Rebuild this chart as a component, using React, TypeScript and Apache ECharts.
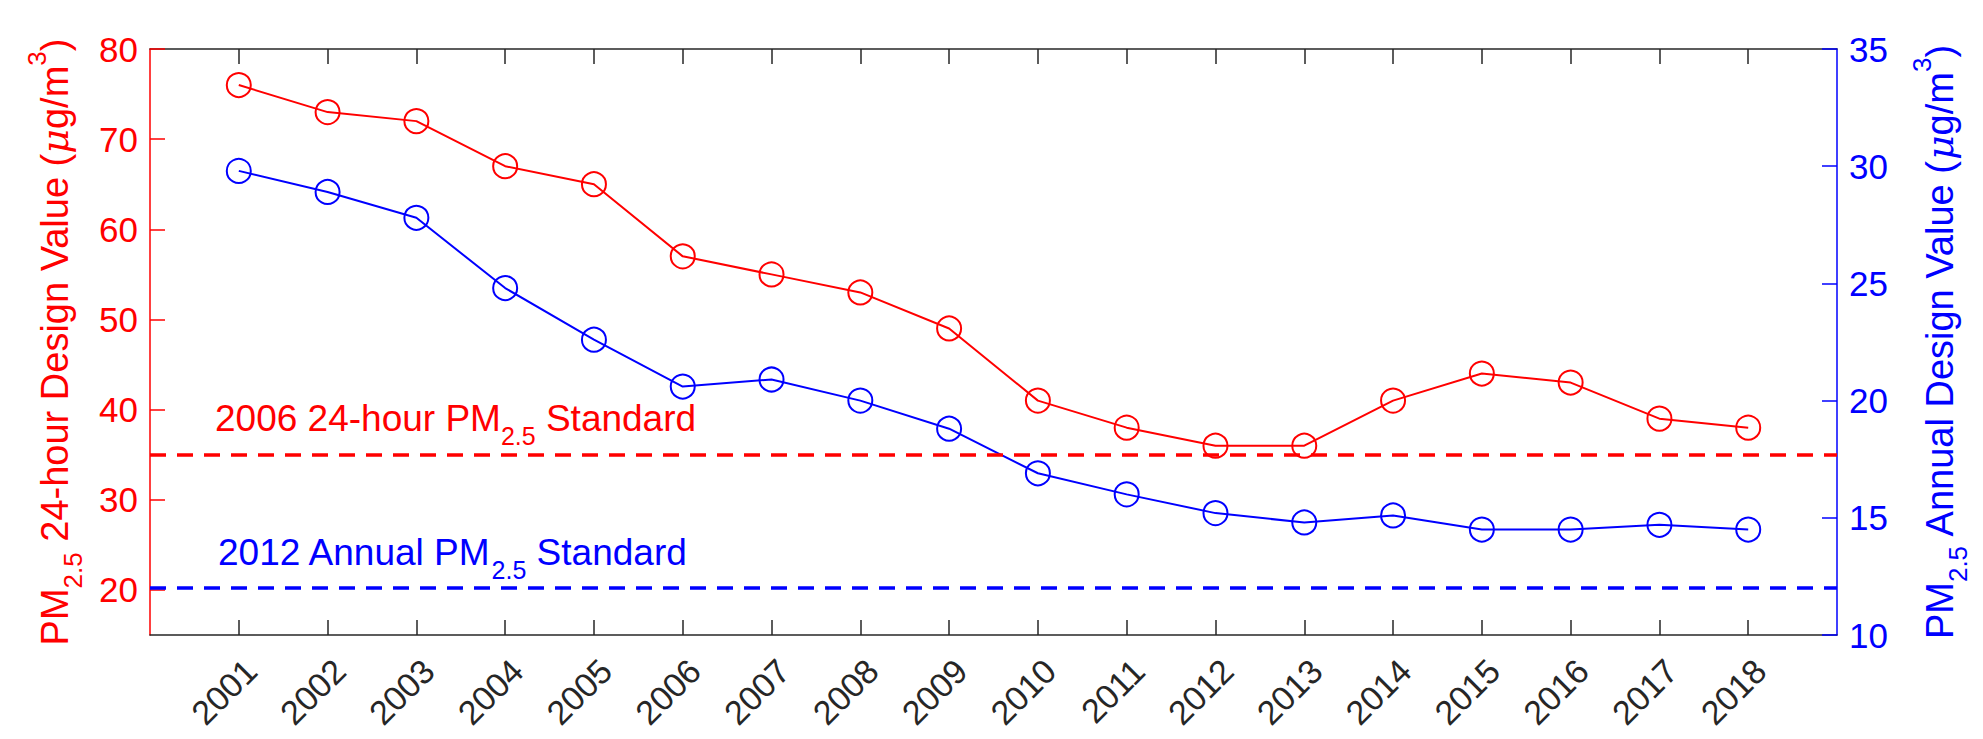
import React, { useEffect, useRef } from "react";
import * as echarts from "echarts";

const years = [2001, 2002, 2003, 2004, 2005, 2006, 2007, 2008, 2009, 2010, 2011, 2012, 2013, 2014, 2015, 2016, 2017, 2018];
const dv24h = [76, 73, 72, 67, 65, 57, 55, 53, 49, 41, 38, 36, 36, 41, 44, 43, 39, 38];
const dvAnnual = [29.8, 28.9, 27.8, 24.8, 22.6, 20.6, 20.9, 20.0, 18.8, 16.9, 16.0, 15.2, 14.8, 15.1, 14.5, 14.5, 14.7, 14.5];
const leftTicks = [20, 30, 40, 50, 60, 70, 80];
const std24h = 35;
const stdAnnual = 12;

const RED = "#ff0000";
const BLUE = "#0000ff";
const DARK = "#262626";
const FONT = "Liberation Sans";

function richFor(color: string, size: number) {
  const sub = Math.round(size * 0.68);
  const lh = Math.round(size * 1.62);
  return {
    n: { fontSize: size, lineHeight: lh, verticalAlign: "middle", color, fontFamily: FONT },
    s: { fontSize: sub, lineHeight: sub, verticalAlign: "bottom", color, fontFamily: FONT },
    p: { fontSize: sub, lineHeight: Math.round(sub * 1.25), verticalAlign: "top", color, fontFamily: FONT },
    i: { fontSize: size, lineHeight: lh, verticalAlign: "middle", color, fontFamily: "DejaVu Serif", fontStyle: "italic" },
  };
}

export default function App() {
  const ref = useRef<HTMLDivElement>(null);
  useEffect(() => {
    if (!ref.current) return;
    const chart = echarts.init(ref.current, null, { renderer: "svg" });
    const tickCommon = { inside: true, length: 15 };
    chart.setOption({
      animation: false,
      backgroundColor: "#ffffff",
      textStyle: { fontFamily: FONT },
      grid: { left: 150, top: 49, width: 1687, height: 586, containLabel: false },
      xAxis: [
        {
          type: "value",
          min: 2000,
          max: 2019,
          position: "bottom",
          axisLine: { show: true, lineStyle: { color: DARK, width: 1.5 } },
          axisTick: { ...tickCommon, customValues: years, lineStyle: { color: DARK, width: 1.5 } },
          axisLabel: {
            customValues: years,
            rotate: 45,
            margin: 18,
            verticalAlign: "top",
            fontSize: 34,
            color: DARK,
            fontFamily: FONT,
            formatter: (v: number) => String(v),
          },
          splitLine: { show: false },
        },
        {
          type: "value",
          min: 2000,
          max: 2019,
          position: "top",
          axisLine: { show: true, lineStyle: { color: DARK, width: 1.5 } },
          axisTick: { ...tickCommon, customValues: years, lineStyle: { color: DARK, width: 1.5 } },
          axisLabel: { show: false },
          splitLine: { show: false },
        },
      ],
      yAxis: [
        {
          type: "value",
          min: 15,
          max: 80,
          position: "left",
          axisLine: { show: true, lineStyle: { color: RED, width: 1.5 } },
          axisTick: { ...tickCommon, customValues: leftTicks, lineStyle: { color: RED, width: 1.5 } },
          axisLabel: { customValues: leftTicks, fontSize: 35, color: RED, fontFamily: FONT, margin: 12 },
          splitLine: { show: false },
          name: "{n|PM}{s|2.5}{n| 24-hour Design Value (}{i|μ}{n|g/m}{p|3}{n|)}",
          nameLocation: "middle",
          nameRotate: 90,
          nameGap: 64,
          nameTextStyle: { rich: richFor(RED, 38), color: RED },
        },
        {
          type: "value",
          min: 10,
          max: 35,
          interval: 5,
          position: "right",
          axisLine: { show: true, lineStyle: { color: BLUE, width: 1.5 } },
          axisTick: { ...tickCommon, lineStyle: { color: BLUE, width: 1.5 } },
          axisLabel: { fontSize: 35, color: BLUE, fontFamily: FONT, margin: 12 },
          splitLine: { show: false },
          name: "{n|PM}{s|2.5}{n| Annual Design Value (}{i|μ}{n|g/m}{p|3}{n|)}",
          nameLocation: "middle",
          nameRotate: 90,
          nameGap: 72,
          nameTextStyle: { rich: richFor(BLUE, 38), color: BLUE },
        },
      ],
      series: [
        {
          type: "line",
          name: "24-hour",
          xAxisIndex: 0,
          yAxisIndex: 0,
          data: years.map((y, i) => [y, dv24h[i]]),
          symbol: "circle",
          symbolSize: 24,
          lineStyle: { color: RED, width: 2 },
          itemStyle: { color: "rgba(0,0,0,0)", borderColor: RED, borderWidth: 2 },
          z: 3,
          markLine: {
            silent: true,
            symbol: ["none", "none"],
            data: [{ yAxis: std24h }],
            lineStyle: { color: RED, type: [16, 11], width: 3.5 },
            label: {
              show: true,
              position: "insideStartTop",
              distance: [65, 6],
              formatter: "{n|2006 24-hour PM}{s|2.5}{n| Standard}",
              rich: richFor(RED, 37),
              color: RED,
            },
          },
        },
        {
          type: "line",
          name: "Annual",
          xAxisIndex: 0,
          yAxisIndex: 1,
          data: years.map((y, i) => [y, dvAnnual[i]]),
          symbol: "circle",
          symbolSize: 24,
          lineStyle: { color: BLUE, width: 2 },
          itemStyle: { color: "rgba(0,0,0,0)", borderColor: BLUE, borderWidth: 2 },
          z: 3,
          markLine: {
            silent: true,
            symbol: ["none", "none"],
            data: [{ yAxis: stdAnnual }],
            lineStyle: { color: BLUE, type: [16, 11], width: 3.5 },
            label: {
              show: true,
              position: "insideStartTop",
              distance: [68, 6],
              formatter: "{n|2012 Annual PM}{s|2.5}{n| Standard}",
              rich: richFor(BLUE, 37),
              color: BLUE,
            },
          },
        },
      ],
    });
    return () => chart.dispose();
  }, []);
  return (
    <div
      ref={ref}
      style={{ position: "fixed", left: 0, top: 0, width: 1983, height: 739, background: "#fff" }}
    />
  );
}
